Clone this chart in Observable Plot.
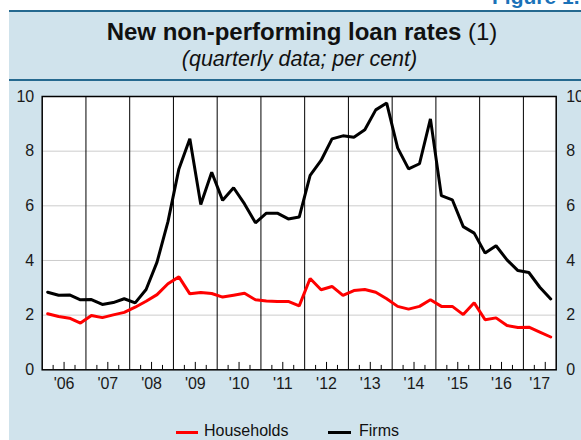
<!DOCTYPE html>
<html>
<head>
<meta charset="utf-8">
<script src="https://cdn.jsdelivr.net/npm/d3@7"></script>
<script src="https://cdn.jsdelivr.net/npm/@observablehq/plot@0.6"></script>
<style>
  html, body { margin: 0; padding: 0; background: #ffffff; }
  #wrap { position: relative; width: 581px; height: 440px; overflow: hidden; background: #ffffff;
          font-family: "Liberation Sans", Arial, Helvetica, sans-serif; color: #111; }
  .abs { position: absolute; white-space: nowrap; }
  #panel { left: 9px; top: 10px; width: 600px; height: 440px; background: #d0e3ec; border-top: 2px solid #25698f; }
  #rule2 { left: 9px; top: 79px; width: 600px; height: 2px; background: #25698f; }
  #fig { left: 492px; top: -14.5px; font-size: 21px; line-height: 21px; font-weight: bold; color: #1b72b8; }
  #title { left: 0; width: 604px; text-align: center; top: 19.7px; font-size: 24px; line-height: 24px; font-weight: bold; }
  #title span { font-weight: normal; }
  #subtitle { left: 0; width: 599px; text-align: center; top: 48.5px; font-size: 21.5px; line-height: 21.5px; font-style: italic; }
  #chart { left: 0; top: 86px; }
  .leg { font-size: 16px; line-height: 16px; top: 423px; }
  .swatch { height: 3px; top: 430.5px; }
</style>
</head>
<body>
<div id="wrap">
  <div id="panel" class="abs"></div>
  <div id="rule2" class="abs"></div>
  <div id="fig" class="abs">Figure 1.</div>
  <div id="title" class="abs">New non-performing loan rates <span>(1)</span></div>
  <div id="subtitle" class="abs">(quarterly data; per cent)</div>
  <div id="chart" class="abs"></div>
  <div class="abs swatch" style="left:176px;width:22px;background:#ff0000"></div>
  <div class="abs leg" style="left:204px">Households</div>
  <div class="abs swatch" style="left:328px;width:23px;background:#000000"></div>
  <div class="abs leg" style="left:359px">Firms</div>
</div>
<script>
// Quarterly data, 2006 Q1 – 2017 Q3 (per cent)
const households = [2.05,1.95,1.89,1.71,1.99,1.91,2.01,2.10,2.29,2.51,2.75,3.15,
                    3.40,2.78,2.83,2.79,2.66,2.73,2.80,2.56,2.52,2.50,2.50,2.34,
                    3.34,2.93,3.05,2.72,2.90,2.94,2.84,2.60,2.32,2.22,2.32,2.56,
                    2.32,2.32,2.02,2.45,1.83,1.90,1.62,1.55,1.56,1.38,1.20];
const firms = [2.84,2.73,2.74,2.56,2.57,2.39,2.46,2.60,2.45,2.94,3.94,5.42,
               7.35,8.45,6.05,7.23,6.20,6.66,6.07,5.38,5.73,5.73,5.52,5.59,
               7.11,7.66,8.45,8.56,8.51,8.78,9.51,9.76,8.12,7.35,7.54,9.18,
               6.37,6.22,5.24,5.00,4.27,4.54,4.02,3.63,3.56,3.02,2.59];
const yearLabels = ["'06","'07","'08","'09","'10","'11","'12","'13","'14","'15","'16","'17"];
const yTicks = [0, 2, 4, 6, 8, 10];
const gridValues = [2, 4, 6, 8];

const nQ = households.length;                 // 47 quarters
const series = [
  ...firms.map((v, i) => ({q: i + 0.5, v, s: "Firms"})),
  ...households.map((v, i) => ({q: i + 0.5, v, s: "Households"}))
];
const yearBounds = d3.range(4, nQ, 4);        // year separators
const quarterTicks = d3.range(1, nQ).filter(q => q % 4 !== 0);
const years = yearLabels.map((label, k) => ({label, pos: (4 * k + Math.min(4 * k + 4, nQ)) / 2}));

const chart = Plot.plot({
  width: 581,
  height: 320,
  marginTop: 10,
  marginBottom: 36.7,
  marginLeft: 41.7,
  marginRight: 25.3,
  x: {domain: [0, nQ], axis: null},
  y: {domain: [0, 10], axis: null},
  style: {background: "transparent", fontFamily: "'Liberation Sans', Arial, sans-serif", fontSize: "16px", color: "#1a1a1a", overflow: "visible"},
  marks: [
    Plot.frame({fill: "white", stroke: "none"}),
    Plot.ruleY(gridValues, {stroke: "#cccccc", strokeWidth: 1}),
    Plot.ruleX(yearBounds, {stroke: "black", strokeWidth: 1}),
    Plot.ruleX(quarterTicks, {x: d => d, y1: () => 0, y2: d => (d % 4 === 2 ? 0.27 : 0.16), stroke: "black", strokeWidth: 1}),
    Plot.line(series.filter(d => d.s === "Firms"), {x: "q", y: "v", stroke: "black", strokeWidth: 3, strokeLinejoin: "miter"}),
    Plot.line(series.filter(d => d.s === "Households"), {x: "q", y: "v", stroke: "#ff0000", strokeWidth: 3, strokeLinejoin: "miter"}),
    Plot.frame({stroke: "black", strokeWidth: 1.5}),
    Plot.axisY(yTicks, {anchor: "left", label: null, tickSize: 0, tickPadding: 8, fontSize: 16}),
    Plot.axisY(yTicks, {anchor: "right", label: null, tickSize: 0, tickPadding: 10, fontSize: 16}),
    Plot.text(years, {x: "pos", text: "label", frameAnchor: "bottom", dy: 19, fontSize: 16})
  ]
});
document.getElementById("chart").appendChild(chart);
</script>
</body>
</html>
